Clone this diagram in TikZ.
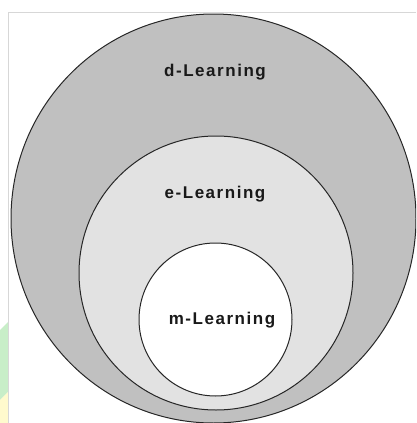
\documentclass[tikz,border=0pt]{standalone}
\usepackage{fontspec}
\newfontfamily\labfont[LetterSpace=9]{Liberation Sans}
\definecolor{outerg}{RGB}{192,192,192}
\definecolor{midg}{RGB}{226,226,226}
\definecolor{frameg}{RGB}{215,215,215}
\definecolor{wmgreen}{RGB}{200,238,200}
\definecolor{wmyellow}{RGB}{255,250,205}
\tikzset{
  ring/.style={draw=black!85, line width=1pt},
  lab/.style={font=\labfont\bfseries\fontsize{17}{20}\selectfont, inner sep=0pt, text=black!90}
}
\begin{document}
\begin{tikzpicture}[x=1pt,y=-1pt]
\useasboundingbox (0,0) rectangle (416,423);
\fill[white] (0,0) rectangle (416,423);
% watermark traces at left edge
\fill[wmgreen] (0,330) -- (8,322) -- (8,392) -- (0,400) -- cycle;
\fill[wmyellow] (0,400) -- (8,392) -- (8,423) -- (0,423) -- cycle;
% frame lines
\draw[frameg, line width=0.8pt] (8,423) -- (8,12) -- (416,12);
% ellipses
\begin{scope}
\clip (0,0) rectangle (416,423);
\draw[ring, fill=outerg] (213.5,218.5) ellipse [x radius=202.5, y radius=204.5];
\end{scope}
\draw[ring, fill=midg] (216,273) ellipse [x radius=137, y radius=137];
\draw[ring, fill=white] (215.5,319.5) ellipse [x radius=76.5, y radius=76.5];
% labels
\node[lab] (d) at (215,72) {d-Learning};
\node[lab] (e) at (215,194) {e-Learning};
\node[lab] (m) at (222,320) {m-Learning};
\end{tikzpicture}
\end{document}
